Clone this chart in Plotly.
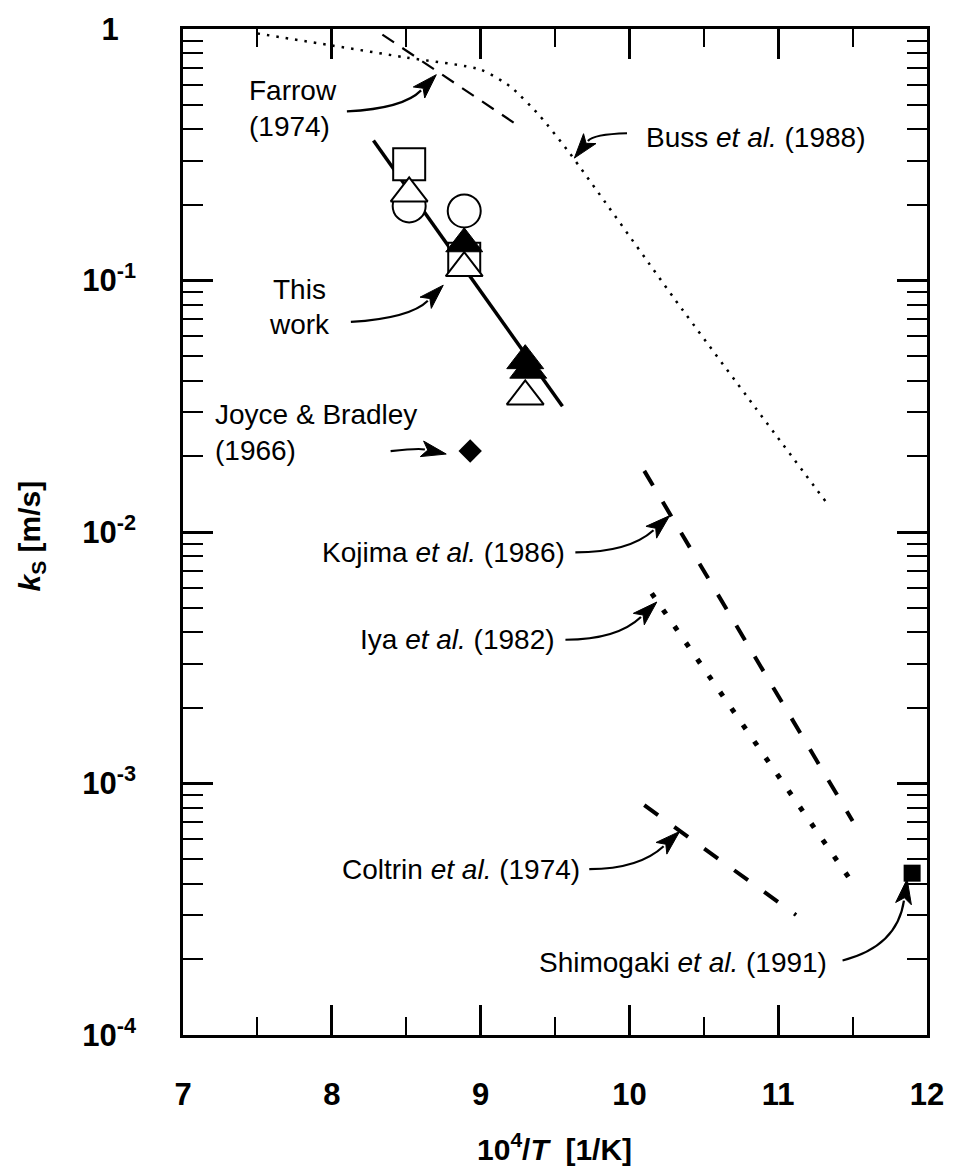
import math
import plotly.graph_objects as go

# ---------------- data ----------------
buss_x = [7.5, 8.0, 8.5, 9.0, 9.2, 9.4, 9.6, 10.3, 10.85, 11.32]
buss_y = [0.96, 0.86, 0.77, 0.69, 0.59, 0.45, 0.32, 0.085, 0.031, 0.0132]

farrow_x = [8.34, 9.26]
farrow_y = [0.95, 0.41]

fit_x = [8.28, 9.55]
fit_y = [0.36, 0.0316]

kojima_x = [10.10, 11.50]
kojima_y = [0.0175, 0.00071]

iya_x = [10.15, 11.49]
iya_y = [0.0057, 0.00041]

coltrin_x = [10.10, 11.12]
coltrin_y = [0.00082, 0.00030]

joyce_x = [8.93]
joyce_y = [0.021]

shimogaki_x = [11.90]
shimogaki_y = [0.00044]

open_sq_x = [8.52, 8.89]
open_sq_y = [0.29, 0.122]
open_circ_x = [8.52, 8.89]
open_circ_y = [0.198, 0.189]
open_tri_x = [8.52, 8.89, 9.30]
open_tri_y = [0.222, 0.112, 0.0346]
fill_tri_x = [8.89, 9.30, 9.32]
fill_tri_y = [0.140, 0.048, 0.044]

x_ticks = [7, 8, 9, 10, 11, 12]
y_ticks = [1e-4, 1e-3, 1e-2, 1e-1, 1]
y_ticktext = ["10<sup>-4</sup>", "10<sup>-3</sup>", "10<sup>-2</sup>", "10<sup>-1</sup>",
              "1\u00a0\u00a0"]

# ---------------- figure geometry ----------------
W, H = 956, 1176
L, R, T, B = 183, 932, 22, 1035


def paper(px, py):
    return (px - L) / (R - L), (B - py) / (B - T)


TXT_FONT = "Liberation Sans, Arial, Helvetica, sans-serif"
BOLD_FONT = "Liberation Sans, Arial, Helvetica, sans-serif"

fig = go.Figure()

fig.add_trace(go.Scatter(x=buss_x, y=buss_y, mode="lines", line=dict(color="black", width=2.5, dash="2.5px,7px", shape="spline", smoothing=0.6)))
fig.add_trace(go.Scatter(x=farrow_x, y=farrow_y, mode="lines", line=dict(color="black", width=2.2, dash="14px,10px")))
fig.add_trace(go.Scatter(x=fit_x, y=fit_y, mode="lines", line=dict(color="black", width=3.5)))
fig.add_trace(go.Scatter(x=kojima_x, y=kojima_y, mode="lines", line=dict(color="black", width=4, dash="17px,19px")))
fig.add_trace(go.Scatter(x=iya_x, y=iya_y, mode="lines", line=dict(color="black", width=5, dash="5px,15px")))
fig.add_trace(go.Scatter(x=coltrin_x, y=coltrin_y, mode="lines", line=dict(color="black", width=4, dash="17px,20px")))

fig.add_trace(go.Scatter(x=open_sq_x, y=open_sq_y, mode="markers",
                         marker=dict(symbol="square", size=32, color="white", line=dict(color="black", width=2))))
fig.add_trace(go.Scatter(x=open_circ_x, y=open_circ_y, mode="markers",
                         marker=dict(symbol="circle", size=33, color="white", line=dict(color="black", width=2))))
fig.add_trace(go.Scatter(x=open_tri_x, y=open_tri_y, mode="markers",
                         marker=dict(symbol="triangle-up", size=32, color="white", line=dict(color="black", width=2))))
fig.add_trace(go.Scatter(x=fill_tri_x, y=fill_tri_y, mode="markers",
                         marker=dict(symbol="triangle-up", size=32, color="black", line=dict(color="black", width=1))))
fig.add_trace(go.Scatter(x=joyce_x, y=joyce_y, mode="markers",
                         marker=dict(symbol="diamond", size=18, color="black")))
fig.add_trace(go.Scatter(x=shimogaki_x, y=shimogaki_y, mode="markers",
                         marker=dict(symbol="square", size=17, color="black")))

# ---------------- labels ----------------
texts = [
    ("Farrow", 247, 84, "left"),
    ("(1974)", 247, 120, "left"),
    ("Buss <i>et al.</i> (1988)", 647, 131, "left"),
    ("This", 300, 284, "center"),
    ("work", 300, 320, "center"),
    ("Joyce &amp; Bradley", 213, 410, "left"),
    ("(1966)", 213, 446, "left"),
    ("Kojima <i>et al.</i> (1986)", 570, 549, "right"),
    ("Iya <i>et al.</i> (1982)", 560, 637, "right"),
    ("Coltrin <i>et al.</i> (1974)", 585, 868, "right"),
    ("Shimogaki <i>et al.</i> (1991)", 833, 962, "right"),
]
for txt, px, py, anc in texts:
    xx, yy = paper(px, py)
    fig.add_annotation(x=xx, y=yy, xref="paper", yref="paper", text=txt, showarrow=False,
                       xanchor=anc, yanchor="middle", font=dict(family=TXT_FONT, size=28, color="black"))

# curved arrows: (tail, control, head) in pixels
arrows = [
    ((348, 105), (405, 102), (438, 68)),
    ((630, 127), (596, 128), (577, 152)),
    ((352, 317), (412, 313), (445, 280)),
    ((392, 447), (420, 444), (448, 450)),
    ((578, 549), (632, 549), (673, 512)),
    ((568, 637), (620, 637), (660, 599)),
    ((592, 868), (642, 868), (683, 830)),
    ((847, 960), (902, 946), (912, 878)),
]
HEAD_L, HEAD_W = 25, 16
for (tx, ty), (cx, cy), (hx, hy) in arrows:
    dx, dy = hx - cx, hy - cy
    n = math.hypot(dx, dy)
    ux, uy = dx / n, dy / n
    bx, by = hx - ux * HEAD_L, hy - uy * HEAD_L
    nx, ny = -uy, ux
    p = [paper(tx, ty), paper(cx, cy), paper(bx + ux * 3, by + uy * 3)]
    fig.add_shape(type="path", xref="paper", yref="paper",
                  path=f"M {p[0][0]},{p[0][1]} Q {p[1][0]},{p[1][1]} {p[2][0]},{p[2][1]}",
                  line=dict(color="black", width=2.2))
    c1 = paper(bx + nx * HEAD_W / 2, by + ny * HEAD_W / 2)
    c2 = paper(bx - nx * HEAD_W / 2, by - ny * HEAD_W / 2)
    tip = paper(hx, hy)
    mid = paper(bx + ux * 6, by + uy * 6)
    fig.add_shape(type="path", xref="paper", yref="paper",
                  path=f"M {tip[0]},{tip[1]} L {c1[0]},{c1[1]} L {mid[0]},{mid[1]} L {c2[0]},{c2[1]} Z",
                  fillcolor="black", line=dict(color="black", width=1))

# axis titles
xx, yy = paper(30, 533)
fig.add_annotation(x=xx, y=yy, xref="paper", yref="paper", showarrow=False, textangle=-90,
                   xanchor="center", yanchor="middle",
                   text="<i>k</i><sub>S</sub> [m/s]",
                   font=dict(family=BOLD_FONT, size=30, color="black", weight="bold"))
xx, yy = paper(557, 1148)
fig.add_annotation(x=xx, y=yy, xref="paper", yref="paper", showarrow=False,
                   xanchor="center", yanchor="middle",
                   text="10<sup>4</sup>/<i>T</i>  [1/K]",
                   font=dict(family=BOLD_FONT, size=30, color="black", weight="bold"))

fig.update_xaxes(range=[7, 12], tickvals=x_ticks, ticktext=[str(v) for v in x_ticks],
                 ticks="inside", ticklen=30, tickwidth=2.5, tickcolor="black",
                 minor=dict(tickvals=[7.5, 8.5, 9.5, 10.5, 11.5], ticks="inside", ticklen=18, tickwidth=2, tickcolor="black"),
                 showline=True, linewidth=2.5, linecolor="black", mirror="allticks", showgrid=False, zeroline=False,
                 tickfont=dict(family=BOLD_FONT, size=31, color="black", weight="bold"), ticklabelstandoff=30)
fig.update_yaxes(type="log", range=[-4, 0], tickvals=y_ticks, ticktext=y_ticktext,
                 ticks="inside", ticklen=30, tickwidth=2.5, tickcolor="black",
                 minor=dict(tickvals=[m * 10 ** e for e in range(-4, 0) for m in range(2, 10)],
                            ticks="inside", ticklen=20, tickwidth=2, tickcolor="black"),
                 showline=True, linewidth=2.5, linecolor="black", mirror="allticks", showgrid=False, zeroline=False,
                 tickfont=dict(family=BOLD_FONT, size=31, color="black", weight="bold"), ticklabelstandoff=38)

fig.update_layout(width=W, height=H, margin=dict(l=L, r=W - R, t=T, b=H - B),
                  plot_bgcolor="white", paper_bgcolor="white", showlegend=False)

fig.write_html("out.html")
